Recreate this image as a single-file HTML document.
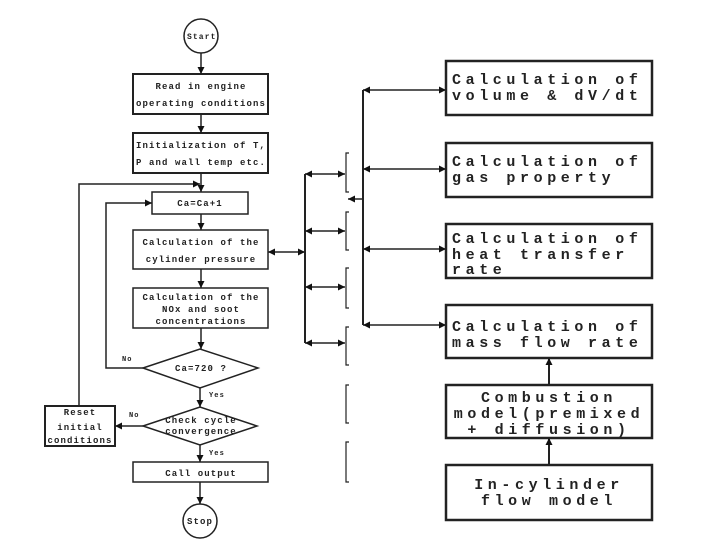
<!DOCTYPE html>
<html><head><meta charset="utf-8"><style>
html,body{margin:0;padding:0;background:#fff;width:720px;height:540px;overflow:hidden}
svg text{font-family:"Liberation Mono",monospace;font-weight:bold;fill:#222}
.s{font-size:9px;letter-spacing:1.1px}
.b{font-size:15px;letter-spacing:4.6px}
</style></head><body>
<svg width="720" height="540" viewBox="0 0 720 540" xmlns="http://www.w3.org/2000/svg">
<defs>
<marker id="a" viewBox="0 0 10 10" refX="10" refY="5" markerWidth="8" markerHeight="7" orient="auto" markerUnits="userSpaceOnUse"><path d="M0,0L10,5L0,10z" fill="#111"/></marker>
</defs>
<g stroke="#222" fill="none" stroke-width="1.5">
<circle cx="201" cy="36" r="17"/>
<rect x="133" y="74" width="135" height="40" stroke-width="2"/>
<rect x="133" y="133" width="135" height="40" stroke-width="2"/>
<rect x="152" y="192" width="96" height="22"/>
<rect x="133" y="230" width="135" height="39"/>
<rect x="133" y="288" width="135" height="40"/>
<polygon points="143,368 200,349 258,368 200,388"/>
<polygon points="143,426 200,407 257,426 200,445"/>
<rect x="133" y="462" width="135" height="20"/>
<circle cx="200" cy="521" r="17"/>
<rect x="45" y="406" width="70" height="40" stroke-width="2"/>
<!-- vertical flow -->
<line x1="201" y1="53" x2="201" y2="74" marker-end="url(#a)"/>
<line x1="201" y1="114" x2="201" y2="133" marker-end="url(#a)"/>
<line x1="201" y1="173" x2="201" y2="192" marker-end="url(#a)"/>
<line x1="201" y1="214" x2="201" y2="230" marker-end="url(#a)"/>
<line x1="201" y1="269" x2="201" y2="288" marker-end="url(#a)"/>
<line x1="201" y1="328" x2="201" y2="349" marker-end="url(#a)"/>
<line x1="200" y1="388" x2="200" y2="407" marker-end="url(#a)"/>
<line x1="200" y1="445" x2="200" y2="462" marker-end="url(#a)"/>
<line x1="200" y1="482" x2="200" y2="504" marker-end="url(#a)"/>
<!-- loops -->
<polyline points="143,368 106,368 106,203 152,203" marker-end="url(#a)"/>
<line x1="143" y1="426" x2="115" y2="426" marker-end="url(#a)"/>
<polyline points="79,406 79,184 200,184" marker-end="url(#a)"/>
<!-- pressure to bus -->
<line x1="285" y1="252" x2="268" y2="252" marker-end="url(#a)"/>
<line x1="285" y1="252" x2="305" y2="252" marker-end="url(#a)"/>
<line x1="305" y1="174" x2="305" y2="343" stroke-width="2"/>
<!-- branches to brackets -->
<g>
<line x1="325" y1="174" x2="305" y2="174" marker-end="url(#a)"/><line x1="325" y1="174" x2="345" y2="174" marker-end="url(#a)"/>
<line x1="325" y1="231" x2="305" y2="231" marker-end="url(#a)"/><line x1="325" y1="231" x2="345" y2="231" marker-end="url(#a)"/>
<line x1="325" y1="287" x2="305" y2="287" marker-end="url(#a)"/><line x1="325" y1="287" x2="345" y2="287" marker-end="url(#a)"/>
<line x1="325" y1="343" x2="305" y2="343" marker-end="url(#a)"/><line x1="325" y1="343" x2="345" y2="343" marker-end="url(#a)"/>
</g>
<g stroke-width="1.2">
<polyline points="349,153 346,153 346,192 349,192"/>
<polyline points="349,212 346,212 346,250 349,250"/>
<polyline points="349,268 346,268 346,308 349,308"/>
<polyline points="349,327 346,327 346,365 349,365"/>
<polyline points="349,385 346,385 346,423 349,423"/>
<polyline points="349,442 346,442 346,482 349,482"/>
</g>
<!-- right bus -->
<line x1="363" y1="90" x2="363" y2="325" stroke-width="2"/>
<line x1="363" y1="199" x2="348" y2="199" marker-end="url(#a)"/>
<line x1="405" y1="90" x2="363" y2="90" marker-end="url(#a)"/><line x1="405" y1="90" x2="446" y2="90" marker-end="url(#a)"/>
<line x1="405" y1="169" x2="363" y2="169" marker-end="url(#a)"/><line x1="405" y1="169" x2="446" y2="169" marker-end="url(#a)"/>
<line x1="405" y1="249" x2="363" y2="249" marker-end="url(#a)"/><line x1="405" y1="249" x2="446" y2="249" marker-end="url(#a)"/>
<line x1="405" y1="325" x2="363" y2="325" marker-end="url(#a)"/><line x1="405" y1="325" x2="446" y2="325" marker-end="url(#a)"/>
<g stroke-width="2.5">
<rect x="446" y="61" width="206" height="54"/>
<rect x="446" y="143" width="206" height="54"/>
<rect x="446" y="224" width="206" height="54"/>
<rect x="446" y="305" width="206" height="53"/>
<rect x="446" y="385" width="206" height="53"/>
<rect x="446" y="465" width="206" height="55"/>
</g>
<line x1="549" y1="385" x2="549" y2="358" marker-end="url(#a)" stroke-width="2"/>
<line x1="549" y1="465" x2="549" y2="438" marker-end="url(#a)" stroke-width="2"/>
</g>
<g class="s">
<text x="187" y="39" font-size="8px">Start</text>
<text x="201" y="89" text-anchor="middle">Read in engine</text>
<text x="201" y="106" text-anchor="middle">operating conditions</text>
<text x="201" y="148" text-anchor="middle">Initialization of T,</text>
<text x="201" y="165" text-anchor="middle">P and wall temp etc.</text>
<text x="200" y="206" text-anchor="middle">Ca=Ca+1</text>
<text x="201" y="245" text-anchor="middle">Calculation of the</text>
<text x="201" y="262" text-anchor="middle">cylinder pressure</text>
<text x="201" y="300" text-anchor="middle">Calculation of the</text>
<text x="201" y="312" text-anchor="middle">NOx and soot</text>
<text x="201" y="324" text-anchor="middle">concentrations</text>
<text x="201" y="371" text-anchor="middle">Ca=720 ?</text>
<text x="201" y="423" text-anchor="middle">Check cycle</text>
<text x="201" y="434" text-anchor="middle">convergence</text>
<text x="201" y="476" text-anchor="middle">Call output</text>
<text x="200" y="524" text-anchor="middle">Stop</text>
<text x="80" y="415" text-anchor="middle">Reset</text>
<text x="80" y="430" text-anchor="middle">initial</text>
<text x="80" y="443" text-anchor="middle">conditions</text>
<text x="122" y="361" font-size="7px">No</text>
<text x="129" y="417" font-size="7px">No</text>
<text x="209" y="397" font-size="7px">Yes</text>
<text x="209" y="455" font-size="7px">Yes</text>
</g>
<g class="b">
<text x="452" y="84">Calculation of</text>
<text x="452" y="100">volume &amp; dV/dt</text>
<text x="452" y="166">Calculation of</text>
<text x="452" y="182">gas property</text>
<text x="452" y="243">Calculation of</text>
<text x="452" y="259">heat transfer</text>
<text x="452" y="274">rate</text>
<text x="452" y="331">Calculation of</text>
<text x="452" y="347">mass flow rate</text>
<text x="549" y="402" text-anchor="middle">Combustion</text>
<text x="549" y="418" text-anchor="middle">model(premixed</text>
<text x="549" y="434" text-anchor="middle">+ diffusion)</text>
<text x="549" y="489" text-anchor="middle">In-cylinder</text>
<text x="549" y="505" text-anchor="middle">flow model</text>
</g>
</svg>
</body></html>
